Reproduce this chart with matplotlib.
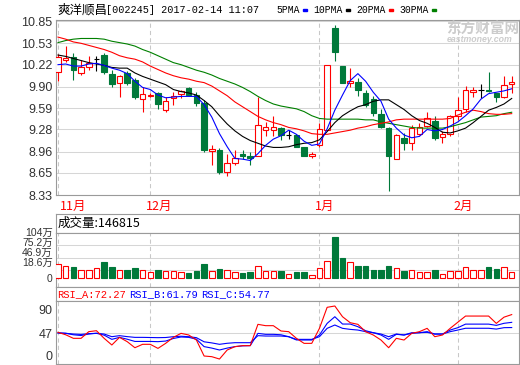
import numpy as np
import matplotlib
matplotlib.use("Agg")
import matplotlib.pyplot as plt
from matplotlib.patches import Rectangle, Wedge
from matplotlib.transforms import blended_transform_factory

# ---- data --------------------------------------------------------------
title_name = "爽洋顺昌"
title_info = "[002245] 2017-02-14 11:07"
month_labels = ["11月", "12月", "1月", "2月"]
month_starts = [0, 12, 34, 52]          # candle index of first trading day

opens = [10.11, 10.29, 10.33, 10.10, 10.18, 10.30, 10.36, 10.09, 9.95, 10.10,
         10.00, 9.72, 9.76, 9.81, 9.56, 9.73, 9.80, 9.88, 9.78, 9.67,
         8.97, 8.98, 8.67, 8.80, 8.93, 8.90, 8.90, 9.27, 9.27, 9.30,
         9.20, 9.20, 9.03, 8.90, 9.05, 9.27, 10.75, 10.20, 9.96, 9.97,
         9.81, 9.72, 9.50, 9.30, 8.85, 9.15, 9.09, 9.22, 9.33, 9.41,
         9.17, 9.22, 9.48, 9.57, 9.83, 9.85, 9.85, 9.81, 9.75, 9.94]
highs = [10.38, 10.49, 10.39, 10.29, 10.34, 10.34, 10.39, 10.14, 10.07, 10.13,
         10.02, 9.90, 9.81, 9.83, 9.75, 9.83, 9.85, 9.89, 9.83, 9.71,
         9.06, 9.01, 8.93, 8.98, 8.98, 8.96, 9.75, 9.39, 9.47, 9.31,
         9.27, 9.22, 9.03, 8.96, 9.38, 10.22, 10.80, 10.20, 10.17, 10.02,
         9.85, 9.77, 9.57, 9.32, 9.22, 9.23, 9.35, 9.38, 9.54, 9.47,
         9.26, 9.49, 9.75, 9.91, 9.89, 9.94, 10.12, 9.81, 10.06, 10.06]
lows = [9.99, 10.26, 10.00, 10.07, 10.14, 10.13, 10.09, 9.90, 9.75, 9.93,
        9.72, 9.54, 9.75, 9.57, 9.54, 9.63, 9.73, 9.77, 9.62, 8.96,
        8.77, 8.64, 8.60, 8.77, 8.85, 8.76, 8.89, 9.18, 9.19, 9.13,
        9.14, 9.02, 8.90, 8.86, 9.03, 9.27, 10.28, 9.96, 9.89, 9.76,
        9.61, 9.48, 9.30, 8.39, 8.85, 8.98, 8.98, 9.20, 9.31, 9.13,
        9.09, 9.19, 9.42, 9.54, 9.75, 9.73, 9.83, 9.68, 9.73, 9.81]
closes = [10.33, 10.31, 10.14, 10.18, 10.25, 10.30, 10.12, 9.94, 10.06, 9.95,
          9.75, 9.79, 9.78, 9.65, 9.70, 9.77, 9.84, 9.78, 9.67, 8.98,
          8.99, 8.66, 8.79, 8.86, 8.90, 8.86, 9.34, 9.31, 9.31, 9.20,
          9.20, 9.03, 8.90, 8.92, 9.29, 10.22, 10.41, 9.96, 9.98, 9.85,
          9.64, 9.52, 9.31, 8.90, 9.20, 9.08, 9.30, 9.31, 9.44, 9.15,
          9.22, 9.47, 9.56, 9.85, 9.85, 9.85, 9.84, 9.75, 9.93, 9.97]

ma5 = [10.22, 10.23, 10.20, 10.20, 10.23, 10.24, 10.21, 10.17, 10.14, 10.09,
       9.98, 9.89, 9.86, 9.78, 9.74, 9.75, 9.76, 9.76, 9.76, 9.64,
       9.46, 9.22, 9.03, 8.86, 8.85, 8.83, 8.93, 9.05, 9.14, 9.19,
       9.27, 9.21, 9.11, 9.05, 9.07, 9.29, 9.56, 9.78, 9.99, 10.09,
       9.98, 9.82, 9.69, 9.43, 9.30, 9.20, 9.16, 9.18, 9.28, 9.26,
       9.28, 9.33, 9.39, 9.48, 9.58, 9.72, 9.80, 9.82, 9.84, 9.87]
ma10 = [10.36, 10.34, 10.31, 10.28, 10.25, 10.23, 10.21, 10.18, 10.17, 10.17,
        10.10, 10.05, 10.01, 9.97, 9.93, 9.86, 9.83, 9.81, 9.78, 9.70,
        9.61, 9.48, 9.36, 9.26, 9.18, 9.12, 9.08, 9.04, 9.02, 9.02,
        9.03, 9.06, 9.08, 9.09, 9.13, 9.25, 9.38, 9.48, 9.55, 9.61,
        9.64, 9.69, 9.71, 9.71, 9.64, 9.57, 9.48, 9.41, 9.37, 9.31,
        9.24, 9.23, 9.26, 9.30, 9.38, 9.47, 9.56, 9.60, 9.65, 9.73]
ma20 = [10.62, 10.59, 10.55, 10.53, 10.50, 10.47, 10.44, 10.40, 10.35, 10.32,
        10.30, 10.26, 10.20, 10.15, 10.10, 10.06, 10.03, 10.01, 9.98, 9.96,
        9.91, 9.84, 9.77, 9.68, 9.61, 9.54, 9.47, 9.42, 9.38, 9.35,
        9.31, 9.29, 9.26, 9.22, 9.21, 9.21, 9.23, 9.25, 9.27, 9.30,
        9.32, 9.35, 9.37, 9.39, 9.42, 9.43, 9.43, 9.43, 9.43, 9.43,
        9.43, 9.44, 9.49, 9.53, 9.56, 9.54, 9.51, 9.50, 9.50, 9.51]
ma30 = [10.54, 10.57, 10.59, 10.60, 10.60, 10.60, 10.59, 10.56, 10.54, 10.52,
        10.49, 10.44, 10.40, 10.35, 10.30, 10.25, 10.22, 10.18, 10.14, 10.11,
        10.07, 10.02, 9.98, 9.94, 9.89, 9.83, 9.76, 9.70, 9.65, 9.62,
        9.60, 9.58, 9.54, 9.48, 9.44, 9.43, 9.43, 9.43, 9.43, 9.43,
        9.42, 9.42, 9.39, 9.37, 9.35, 9.33, 9.31, 9.30, 9.30, 9.30,
        9.30, 9.32, 9.35, 9.38, 9.42, 9.46, 9.47, 9.48, 9.51, 9.53]

volumes = [34, 28, 25, 19, 19, 23, 37, 26, 19, 19,
           23, 19, 14, 19, 17, 17, 14, 12, 17, 32,
           17, 21, 19, 14, 13, 15, 29, 17, 17, 17,
           11, 14, 14, 9, 23, 39, 94, 46, 37, 28,
           28, 20, 20, 29, 23, 17, 20, 14, 14, 19,
           11, 17, 17, 25, 19, 19, 25, 21, 25, 14.68]   # 万

rsi_a = [48.3, 45.0, 40.2, 40.2, 49.2, 50.5, 40.2, 31.2, 41.5, 35.7,
         27.5, 32.1, 32.1, 26.6, 33.4, 41.5, 46.9, 44.7, 37.9, 16.3,
         15.4, 12.2, 24.4, 28.9, 30.3, 30.3, 59.1, 57.3, 57.3, 50.1,
         49.2, 40.2, 33.4, 33.4, 53.7, 82.1, 83.9, 69.4, 61.3, 59.1,
         49.2, 44.7, 37.9, 27.5, 40.2, 37.9, 46.9, 49.2, 53.7, 42.4,
         44.7, 53.7, 62.0, 70.3, 70.3, 70.3, 70.3, 60.4, 68.8, 72.27]
rsi_b = [47.5, 47.0, 45.0, 44.0, 46.0, 47.0, 44.5, 38.8, 41.5, 39.0,
         36.0, 36.0, 36.0, 35.7, 36.5, 40.0, 42.0, 41.5, 39.0, 29.0,
         27.0, 24.4, 27.0, 29.0, 30.0, 30.3, 46.9, 45.6, 45.6, 45.0,
         42.4, 38.0, 37.9, 37.9, 44.7, 60.4, 69.4, 59.5, 59.5, 55.9,
         50.5, 47.8, 44.7, 38.8, 45.6, 44.7, 47.8, 47.8, 49.2, 46.0,
         46.0, 51.4, 54.6, 59.4, 59.4, 59.4, 59.4, 57.7, 60.5, 61.79]
rsi_c = [47.5, 47.0, 46.0, 45.5, 46.5, 47.0, 46.0, 42.4, 43.8, 42.5,
         41.5, 41.5, 41.3, 41.1, 41.3, 42.4, 43.0, 42.4, 41.1, 35.5,
         34.0, 32.1, 33.5, 34.3, 34.3, 34.3, 43.8, 43.3, 43.3, 43.3,
         42.4, 38.8, 38.8, 38.8, 42.4, 53.7, 58.2, 53.7, 52.3, 51.4,
         49.2, 47.8, 46.0, 42.4, 46.0, 44.7, 46.9, 47.8, 48.3, 46.0,
         46.0, 49.2, 51.4, 53.8, 53.8, 53.8, 53.8, 52.7, 54.6, 54.77]

price_ticks = [8.33, 8.65, 8.96, 9.28, 9.59, 9.90, 10.22, 10.53, 10.85]
vol_grid = [18.6, 46.9, 75.2]
vol_labels = ["0", "18.6万", "46.9万", "75.2万", "104万"]
vol_last = 146815
rsi_ticks = [0, 47, 90]

# ---- layout helpers (pixels of a 520x365 image) -------------------------
W, H = 520, 365
L, R = 56, 519
RED, GREEN, BLUE, BLACK = "#ff0000", "#00793a", "#0000ff", "#000000"
BORDER, GRID, DASH = "#9a9a9a", "#d6d6d6", "#c8c8c8"
NUM_FONT = ["Liberation Sans", "Noto Sans CJK SC"]
CJK = ["Noto Sans CJK SC", "DejaVu Sans"]
MONO = ["Liberation Mono", "DejaVu Sans Mono"]


def px_rect(y0, y1):
    return [L / W, 1 - y1 / H, (R - L) / W, (y1 - y0) / H]


def fy(y):
    return 1 - y / H


fig = plt.figure(figsize=(W / 100, H / 100), dpi=100)
x = np.arange(len(closes))
xlim = (-0.26, 59.95)
bw = 0.72


def frame(ax):
    ax.set_xlim(*xlim)
    ax.set_xticks([])
    for s in ax.spines.values():
        s.set_color(BORDER)
        s.set_linewidth(0.8)
    ax.tick_params(axis="y", length=0, pad=2.6, labelsize=9,
                   labelcolor="#333333")


def month_lines(ax):
    for m in month_starts:
        ax.axvline(m, color=DASH, lw=0.75, ls=(0, (4, 3)), zorder=0.5)


# ---- price panel ------------------------------------------------------
ax = fig.add_axes(px_rect(20, 195))
frame(ax)
ax.set_ylim(8.33, 10.868)
ax.set_yticks(price_ticks)
ax.set_yticklabels([f"{t:.2f}" for t in price_ticks], family=NUM_FONT)
for t in price_ticks:
    ax.axhline(t, color=GRID, lw=0.75, zorder=0.4)
month_lines(ax)

for i, (o, h, l, c) in enumerate(zip(opens, highs, lows, closes)):
    if c > o:
        ax.vlines(i, l, h, color=RED, lw=0.8, zorder=2)
        ax.add_patch(Rectangle((i - bw / 2, o), bw, c - o, facecolor="white",
                               edgecolor=RED, lw=0.8, zorder=3))
    elif c < o:
        ax.vlines(i, l, h, color=GREEN, lw=0.8, zorder=2)
        ax.add_patch(Rectangle((i - bw / 2, c), bw, o - c, facecolor=GREEN,
                               edgecolor=GREEN, lw=0.8, zorder=3))
    else:
        ax.vlines(i, l, h, color=BLACK, lw=0.8, zorder=2)
        ax.hlines(o, i - bw / 2, i + bw / 2, color=BLACK, lw=0.8, zorder=3)

for vals, col in [(ma30, "#008000"), (ma20, RED), (ma10, BLACK), (ma5, BLUE)]:
    ax.plot(x, vals, color=col, lw=0.8, zorder=4)

tr = blended_transform_factory(ax.transData, ax.transAxes)
for m, lbl in zip(month_starts, month_labels):
    ax.text(max(m - 0.6, 0.26), -11 / 175, lbl, transform=tr, color=RED,
            fontsize=9, family=CJK, ha="left", va="center")

# watermark (logo swirl + name)
for r0, t1, t2 in [(10, 120, 300), (6, 300, 480)]:
    fig.add_artist(Wedge((434 / W, fy(31)), r0 / W, t1, t2, width=3 / W,
                         transform=fig.transFigure, color="#d9d9d9",
                         zorder=0))
fig.text(446.5 / W, fy(28.5), "东方财富网", family=CJK, fontsize=10.5,
         weight="bold", color="#cccccc", va="center", ha="left", zorder=0)
fig.text(447 / W, fy(39.5), "eastmoney.com", family=NUM_FONT, fontsize=6.3,
         weight="bold", style="italic", color="#cccccc", va="center",
         ha="left", zorder=0)

# title and legend
fig.text(57 / W, fy(10), title_name, family=CJK, fontsize=9, va="center")
fig.text(105.5 / W, fy(10.3), title_info, family=MONO, fontsize=7.3,
         va="center")
tx = 276
for name, col in zip(["5PMA", "10PMA", "20PMA", "30PMA"],
                     [BLUE, BLACK, RED, "#008000"]):
    fig.text(tx / W, fy(10.3), name, family=MONO, fontsize=7, va="center")
    sx = tx + len(name) * 5.83 + 3.4
    fig.add_artist(Rectangle((sx / W, fy(11.4)), 4.7 / W, 2.2 / H,
                             transform=fig.transFigure, color=col))
    tx = sx + 10.4

# ---- volume panel -------------------------------------------------------
axh = fig.add_axes(px_rect(214, 232.7))
frame(axh)
axh.set_yticks([])
axh.text(1.5 / (R - L), 0.5, f"成交量:{vol_last}", transform=axh.transAxes,
         family=CJK, fontsize=9, va="center", ha="left")

axv = fig.add_axes(px_rect(232.7, 287.3))
frame(axv)
axv.set_ylim(-20, 104)
axv.set_yticks([])
for g in vol_grid:
    axv.axhline(g, color=GRID, lw=0.75, zorder=0.4)
month_lines(axv)
up = [c >= o for o, c in zip(opens, closes)]
axv.bar(x, volumes, width=bw, bottom=0,
        facecolor=["white" if u else GREEN for u in up],
        edgecolor=[RED if u else GREEN for u in up], lw=0.8, zorder=3)
# the source stacks these labels tightly under the header
for lbl, ypx in zip(vol_labels, [279.5, 263.0, 253.0, 243.0, 233.0]):
    fig.text(52.8 / W, fy(ypx), lbl, family=NUM_FONT, fontsize=7.5,
             color="#333333", ha="right", va="center")

# ---- RSI panel --------------------------------------------------------
axrh = fig.add_axes(px_rect(287.3, 300.7))
frame(axrh)
axrh.set_yticks([])
for txt, col, xp in [(f"RSI_A:{rsi_a[-1]:.2f}", RED, 57.5),
                     (f"RSI_B:{rsi_b[-1]:.2f}", BLUE, 129.3),
                     (f"RSI_C:{rsi_c[-1]:.2f}", BLUE, 201)]:
    axrh.text((xp - L) / (R - L), 0.5, txt, transform=axrh.transAxes,
              family=MONO, fontsize=7.5, color=col, va="center", ha="left")

axr = fig.add_axes(px_rect(300.7, 364))
frame(axr)
lo, hi = 5.5, 91.05
axr.set_ylim(lo, hi)
# labels are kept inside the panel, as the source chart does
axr.set_yticks(np.clip(rsi_ticks, lo + 11.3, hi - 12.5))
axr.set_yticklabels([str(t) for t in rsi_ticks], family=NUM_FONT)
axr.axhline(47, color=GRID, lw=0.75, zorder=0.4)
month_lines(axr)
axr.plot(x, rsi_c, color=BLUE, lw=0.8, zorder=3)
axr.plot(x, rsi_b, color=BLUE, lw=0.8, zorder=3)
axr.plot(x, rsi_a, color=RED, lw=0.8, zorder=4)

fig.savefig("out.png", dpi=100)
plt.close(fig)
